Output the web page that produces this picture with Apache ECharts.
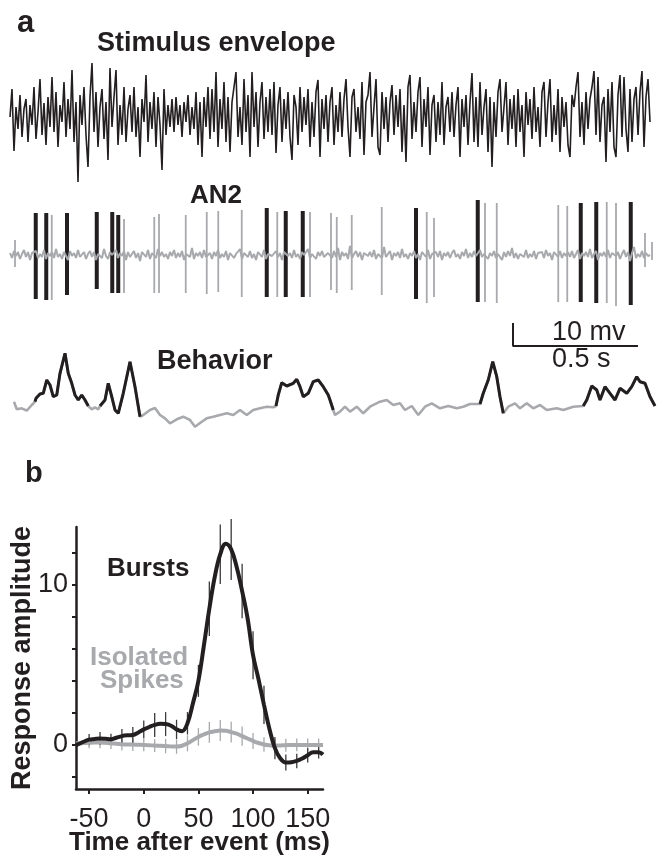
<!DOCTYPE html>
<html><head><meta charset="utf-8">
<script src="https://cdn.jsdelivr.net/npm/echarts@6/dist/echarts.min.js"></script>
<style>html,body{margin:0;padding:0;background:#fff}#c{width:660px;height:857px}</style>
</head><body><div id="c"></div>
<script>
// ---------- Panel a: stimulus envelope (arbitrary units, sampled every 8 ms) ----------
const stimulusStepMs = 8;
const stimulusValues = [
 0,28,-34,10,-12,22,-20,8,18,-25,12,-8,30,-22,5,38,-18,14,-28,20,
 -10,40,-15,25,-30,12,-5,35,-20,18,-12,47,-25,15,-65,22,-8,30,-18,-50,
 20,54,-15,25,-30,10,28,-22,15,-43,49,-10,20,47,-28,12,-18,30,-25,8,
 22,-15,30,-20,10,-40,18,-5,42,-25,15,-12,25,-30,20,-8,-53,28,-18,12,
 -10,18,-15,20,-8,12,-20,15,-5,22,-18,10,-12,25,-28,15,-40,20,-10,30,
 -22,28,-15,45,-30,18,-12,35,-25,20,-35,15,30,45,-20,10,-28,38,-15,22,
 -40,45,-10,25,-30,15,35,-22,20,-15,28,-18,35,-36,12,30,-25,18,-12,25,
 -20,-43,22,10,-28,30,-15,20,-8,28,-30,15,-20,25,37,-40,18,-12,22,-25,
 15,30,-28,12,-15,25,-20,18,38,-10,-40,20,28,-15,10,-22,35,-38,15,22,
 45,-20,10,38,-30,-38,25,-12,20,-25,15,32,-18,22,-10,28,-35,12,-45,30,
 42,-22,15,-15,25,40,-30,18,-10,30,-38,12,22,-25,15,-18,35,-28,10,20,
 -15,25,-20,12,30,-40,18,-10,22,-28,15,44,-25,20,-30,35,-18,10,28,-35,
 20,-50,15,-20,25,38,-15,10,35,-28,18,-12,22,-30,28,-15,12,-40,25,-8,
 18,-22,30,-15,10,-30,25,35,-20,15,38,-25,12,-18,28,-35,20,-10,15,-28,
 -40,22,10,30,45,-20,15,-28,25,-12,18,30,46,-18,40,-25,12,20,-45,28,
 -15,35,-30,-40,22,42,-20,40,-12,-35,28,-25,18,30,-18,25,46,-30,20,38,-5
];

// ---------- Panel a: AN2 recording (mV-like units) ----------
const an2StepMs = 8;
const an2Noise = [
 2,-3,4,-1,3,-4,1,5,-2,3,-5,2,0,4,-3,1,-2,5,-4,2,
 -1,3,-3,6,-2,1,-4,3,2,-5,4,-1,2,-3,5,-2,0,3,-4,1,
 4,-2,3,-5,1,2,-3,6,-1,-4,3,0,-2,5,-3,2,-1,4,-5,3,
 -2,1,4,-3,2,-6,3,1,-2,5,-4,2,0,-3,6,-1,3,-2,1,-4,
 3,-1,5,-3,2,-2,4,-5,1,3,-2,7,-4,2,-1,3,-3,5,-2,0,
 2,-4,3,-1,5,-3,1,-2,4,-5,2,3,-3,1,-1,6,-4,2,0,-2,
 4,-3,1,-5,3,2,-2,5,-4,1,3,-1,-3,4,-2,2,-5,3,1,-1,
 2,-3,5,-2,1,-4,3,0,-2,6,-3,1,2,-4,3,-1,4,-2,-3,2,
 1,-3,4,-2,7,-5,3,-1,2,-4,9,-3,1,4,-2,3,-5,2,0,-1,
 3,-2,5,-4,1,2,-3,8,-2,0,4,-5,2,-1,3,-3,6,-2,1,-4,
 2,-1,4,-3,1,-5,3,2,-2,5,-4,1,0,3,-2,4,-5,2,-1,3,
 -3,2,5,-2,1,-4,3,-1,6,-3,2,-2,4,-1,-3,5,-2,1,3,-4,
 2,-1,4,-3,1,2,-5,3,-2,4,-1,7,-3,2,-4,1,3,-2,5,-3,
 1,-2,4,-4,2,0,3,-3,5,-1,2,-5,3,1,-2,4,-3,2,-1,3,
 -2,4,-3,1,5,-4,2,-1,3,-2,6,-3,1,4,-5,2,-1,3,-2,5,
 -3,2,4,-1,3,-4,1,5,-2,3,-6,2,8,-3,1,-2,4,-3,2,-1,0
];
const burstSpikeT      = [103,145,228,347,409,433,1027,1103,1171,1624,1871,2283,2345,2483];
const burstSpikeTop    = [ 42, 42, 42, 43, 43, 40,  47,  44,  44,  47,  55,  52,  53,  53];
const burstSpikeBottom = [-44,-45,-40,-34,-38,-38, -42, -42, -42, -44, -47, -47, -48, -50];
const isoSpikeT      = [20,167,456,577,596,703,787,833,927,1069,1200,1284,1307,1367,1487,1667,1696,1900,1947,2193,2229,2387,2424,2540,2568];
const isoSpikeTop    = [15, 40, 36, 38, 41, 40, 43, 44, 45,  43,  43,  42,  38,  40,  48,  43,  37,  52,  52,  50,  49,  53,  52,  22,  13];
const isoSpikeBottom = [-12,-45,-38,-38,-38,-38,-39,-37,-42,-42,-42,-35,-38,-35,-40,-48,-42,-47,-48,-47,-47,-48,-51,-12,-5];

// ---------- Panel a: behavior ----------
const behaviorT = [16,27,47,67,87,100,104,120,133,147,160,173,187,200,220,233,247,260,273,287,300,313,327,340,353,360,380,393,407,420,433,453,480,500,520,533,560,580,600,620,640,667,693,720,740,767,787,813,840,867,893,920,947,973,1000,1027,1053,1064,1073,1087,1107,1133,1147,1160,1173,1193,1213,1233,1253,1273,1280,1293,1300,1320,1340,1360,1387,1413,1440,1480,1507,1533,1560,1580,1607,1633,1660,1687,1720,1753,1787,1813,1840,1880,1893,1913,1931,1947,1960,1973,1993,2020,2040,2067,2093,2120,2147,2187,2213,2253,2293,2307,2327,2347,2360,2380,2400,2420,2440,2467,2487,2507,2520,2540,2560,2580];
const behaviorV = [38.3,30.7,31.7,29.3,35,38.3,41.7,46,46.7,60,55,43.3,45,66.7,86.7,66.7,56.7,45,40,45,40,34,30.7,32.7,30.7,34,40,56.7,43.3,30,26.7,46.7,78.3,53.3,23.3,25,30,32,25,21.7,16.7,20.7,23.3,20,13.3,18.3,21.7,23.3,25,26.7,25,30,25,30,31.7,33.3,32.7,34,45,57.3,54,56.7,60.7,53.3,43.3,46.7,58.3,60,53.3,45,40,30,25,28.3,33.3,28.3,33.3,26.7,33.3,38.3,40,35,36.7,30,34,25,33.3,36.7,31.7,34,31.7,33.3,36,36,46.7,60,78.3,63.3,43.3,26.7,33.3,36.7,31.7,36.7,31.7,35,30,31.7,30,33.3,34,40,54,50,40,53.3,46.7,40,51.7,46.7,53.3,63.3,58.3,56.7,43.3,34];
const behaviorBurstWindows = [[100,313],[360,520],[1064,1293],[1880,1973],[2293,2580]];

// ---------- Scale bar ----------
const scaleBarStartMs = 2012;
const scaleBarMs = 500;
const scaleBarMv = 10;
const scaleBarTimeLabel = '0.5 s';
const scaleBarMvLabel = '10 mv';

// ---------- Panel b ----------
const responseTimeMs   = [-62,-60,-55,-50,-45,-40,-35,-30,-25,-20,-15,-10,-5,0,5,10,15,20,25,30,35,40,45,50,55,60,65,70,75,80,85,90,95,100,105,110,115,120,125,130,135,140,145,150,155,160,164];
const burstsResponse   = [0,0.05,0.2,0.33,0.37,0.4,0.38,0.35,0.45,0.55,0.6,0.62,0.78,0.97,1.12,1.25,1.32,1.3,1.2,0.97,0.86,1.35,2.6,4.0,6.2,8.5,10.5,11.9,12.55,12.2,11.1,9.6,7.9,5.6,4.1,2.5,1.0,-0.2,-0.85,-1.1,-1.08,-1.0,-0.85,-0.65,-0.45,-0.45,-0.6];
const isolatedResponse = [0.1,0.1,0.12,0.14,0.15,0.15,0.13,0.1,0.08,0.05,0.03,0.02,0.01,0,-0.02,-0.04,-0.05,-0.07,-0.09,-0.1,-0.05,0.1,0.3,0.5,0.65,0.78,0.85,0.9,0.88,0.8,0.7,0.55,0.4,0.25,0.12,0.03,-0.02,-0.05,-0.03,-0.02,0,0,0,0,0,0,0];
const errorBarTimeMs = [-50,-40,-30,-20,-10,0,10,20,30,40,50,60,70,80,90,100,110,120,130,140,150,160];
const burstsErr      = [0.35,0.4,0.35,0.45,0.5,0.55,0.75,0.75,0.6,0.7,1.0,1.7,1.85,1.9,1.7,1.5,1.2,0.7,0.5,0.45,0.45,0.4];
const isolatedErr    = [0.35,0.35,0.35,0.4,0.4,0.4,0.4,0.45,0.45,0.5,0.55,0.65,0.65,0.65,0.6,0.5,0.45,0.4,0.4,0.4,0.4,0.4];
const xTickValues = [-50,0,50,100,150];
const yTickValues = [-2,0,2,4,6,8,10,12];
const yLabelValues = [0,10];

// ---------- build ----------
const BLACK = '#231f20', GRAY = '#a7a9ac';
const FONT = '"Liberation Sans", Arial, Helvetica, sans-serif';
const chart = echarts.init(document.getElementById('c'), null, {renderer:'canvas'});

const stimData = stimulusValues.map((v,i)=>[i*stimulusStepMs, v]);
const an2Data = an2Noise.map((v,i)=>[i*an2StepMs, v]);
const burstSpikes = burstSpikeT.map((t,i)=>[t, burstSpikeTop[i], burstSpikeBottom[i]]);
const isoSpikes = isoSpikeT.map((t,i)=>[t, isoSpikeTop[i], isoSpikeBottom[i]]);
const inBurst = t => behaviorBurstWindows.some(w => t>=w[0] && t<=w[1]);
const behGray = behaviorT.map((t,i)=>[t, behaviorV[i]]);
const behBlack = behaviorT.map((t,i)=>[t, inBurst(t) ? behaviorV[i] : null]);
const scaleData = [[scaleBarStartMs, scaleBarMv],[scaleBarStartMs, 0],[scaleBarStartMs+scaleBarMs, 0]];

const midAt = (arr, t) => arr[responseTimeMs.indexOf(t)];
const burstBars = errorBarTimeMs.map((t,i)=>[t, midAt(burstsResponse,t), burstsErr[i]]);
const isoBars = errorBarTimeMs.map((t,i)=>[t, midAt(isolatedResponse,t), isolatedErr[i]]);

function spikeSeries(data, color, width, grid){
  return {type:'custom', xAxisIndex:grid, yAxisIndex:grid, data, silent:true, clip:false,
    encode:{x:0, y:[1,2]},
    renderItem(params, api){
      const t=api.value(0);
      const a=api.coord([t, api.value(1)]), b=api.coord([t, api.value(2)]);
      return {type:'line', shape:{x1:a[0],y1:a[1],x2:b[0],y2:b[1]}, style:{stroke:color, lineWidth:width}};
    }};
}
function errSeries(data, color, width){
  return {type:'custom', xAxisIndex:4, yAxisIndex:4, data, silent:true, clip:false,
    encode:{x:0, y:1},
    renderItem(params, api){
      const t=api.value(0), m=api.value(1), h=api.value(2);
      const a=api.coord([t, m+h]), b=api.coord([t, m-h]);
      return {type:'line', shape:{x1:a[0],y1:a[1],x2:b[0],y2:b[1]}, style:{stroke:color, lineWidth:width}};
    }};
}
const hiddenX = i => ({gridIndex:i, type:'value', min:0, max:2600, show:false});
const hiddenY = (i,mn,mx) => ({gridIndex:i, type:'value', min:mn, max:mx, show:false});

function txt(text, x, y, size, opts){
  return {type:'text', x, y, silent:true,
    style:Object.assign({text, fontFamily:FONT, fontSize:size, fontWeight:'bold', fill:BLACK, align:'left', verticalAlign:'middle'}, opts||{})};
}
const G = o => Object.assign({outerBoundsMode:'none', containLabel:false}, o);

chart.setOption({
  animation:false,
  backgroundColor:'#fff',
  textStyle:{fontFamily:FONT},
  grid:[
    G({left:10, top:47, width:650, height:140}),
    G({left:10, top:200, width:650, height:110}),
    G({left:10, top:340, width:650, height:100}),
    G({left:10, top:323, width:650, height:23}),
    G({left:76, top:527, width:247, height:262})
  ],
  xAxis:[hiddenX(0), hiddenX(1), hiddenX(2), hiddenX(3),
    {gridIndex:4, type:'value', min:-62, max:164,
     axisLine:{show:true, onZero:false, lineStyle:{color:BLACK, width:2.5}},
     axisTick:{show:true, customValues:xTickValues, length:5, lineStyle:{color:BLACK, width:2}},
     axisLabel:{customValues:xTickValues, fontSize:27, color:BLACK, margin:17, fontFamily:FONT},
     splitLine:{show:false},
     name:'Time after event (ms)', nameLocation:'middle', nameGap:41, nameMoveOverlap:false,
     nameTextStyle:{fontSize:26, fontWeight:'bold', color:BLACK, fontFamily:FONT}}
  ],
  yAxis:[hiddenY(0,-70,70), hiddenY(1,-55,55), hiddenY(2,0,100), hiddenY(3,0,10),
    {gridIndex:4, type:'value', min:-2.75, max:13.6,
     axisLine:{show:true, onZero:false, lineStyle:{color:BLACK, width:2.5}},
     axisTick:{show:true, customValues:yTickValues, length:4, lineStyle:{color:BLACK, width:2}},
     axisLabel:{customValues:yLabelValues, fontSize:27, color:BLACK, margin:8, fontFamily:FONT},
     splitLine:{show:false},
     name:'Response amplitude', nameLocation:'middle', nameGap:40, nameRotate:90, nameMoveOverlap:false,
     nameTextStyle:{fontSize:27, fontWeight:'bold', color:BLACK, fontFamily:FONT}}
  ],
  series:[
    {type:'line', xAxisIndex:0, yAxisIndex:0, data:stimData, symbol:'none', silent:true,
     lineStyle:{color:BLACK, width:1.6}},
    {type:'line', xAxisIndex:1, yAxisIndex:1, data:an2Data, symbol:'none', silent:true,
     lineStyle:{color:GRAY, width:2}},
    spikeSeries(isoSpikes, GRAY, 1.8, 1),
    spikeSeries(burstSpikes, BLACK, 4, 1),
    {type:'line', xAxisIndex:2, yAxisIndex:2, data:behGray, symbol:'none', silent:true,
     lineStyle:{color:GRAY, width:2.6}},
    {type:'line', xAxisIndex:2, yAxisIndex:2, data:behBlack, symbol:'none', silent:true, connectNulls:false,
     lineStyle:{color:BLACK, width:3}},
    {type:'line', xAxisIndex:3, yAxisIndex:3, data:scaleData, symbol:'none', silent:true, clip:false,
     lineStyle:{color:BLACK, width:2}},
    errSeries(isoBars, GRAY, 1.3),
    {type:'line', xAxisIndex:4, yAxisIndex:4, data:responseTimeMs.map((t,i)=>[t,isolatedResponse[i]]),
     symbol:'none', smooth:0.4, silent:true, lineStyle:{color:GRAY, width:4}},
    errSeries(burstBars, '#3a3a3a', 1.3),
    {type:'line', xAxisIndex:4, yAxisIndex:4, data:responseTimeMs.map((t,i)=>[t,burstsResponse[i]]),
     symbol:'none', smooth:0.4, silent:true, lineStyle:{color:BLACK, width:4}}
  ],
  graphic:[
    txt('a', 17, 23, 31),
    txt('Stimulus envelope', 97, 44, 27),
    txt('AN2', 190, 196, 26),
    txt('Behavior', 157, 362, 27),
    txt(scaleBarMvLabel, 552, 333, 27, {fontWeight:'normal'}),
    txt(scaleBarTimeLabel, 552, 360, 27, {fontWeight:'normal'}),
    txt('b', 25, 474, 29),
    txt('Bursts', 107, 569, 26),
    txt('Isolated', 90, 658, 26, {fill:GRAY}),
    txt('Spikes', 100, 681, 26, {fill:GRAY})
  ]
});
</script></body></html>
